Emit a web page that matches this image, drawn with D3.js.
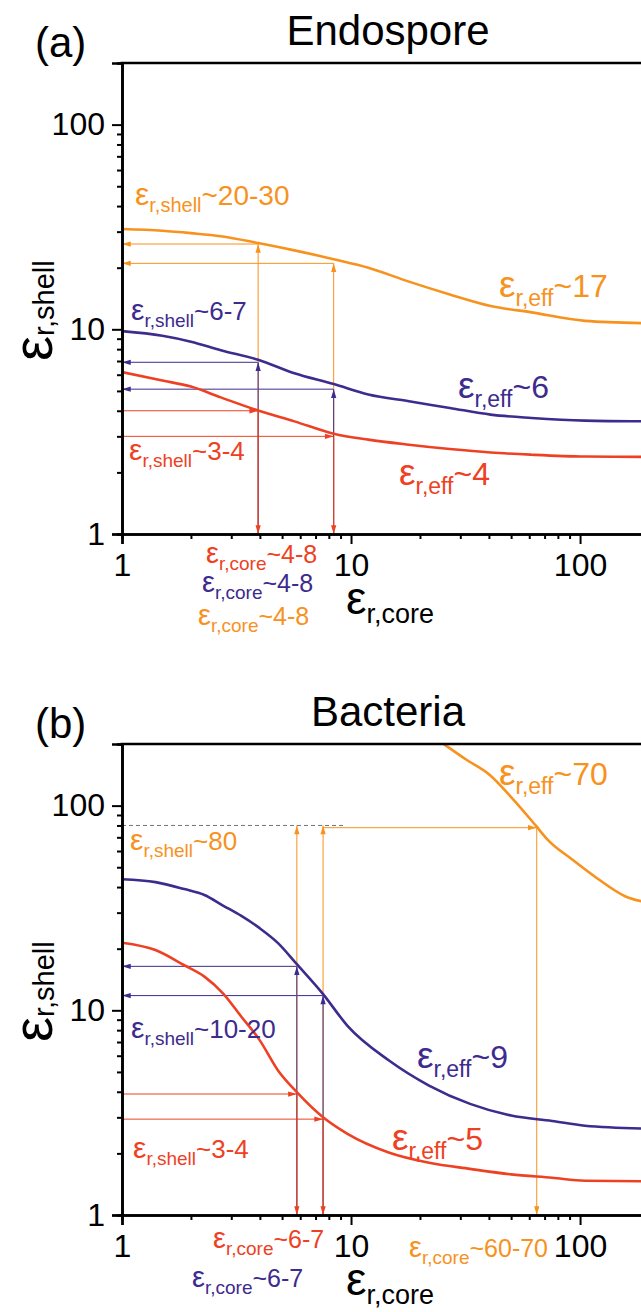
<!DOCTYPE html>
<html>
<head>
<meta charset="utf-8">
<script src="https://cdn.jsdelivr.net/npm/d3@7"></script>
<style>
  body { margin: 0; background: #fff; }
  text { font-family: "Liberation Sans", Arial, sans-serif; }
</style>
</head>
<body>
<div id="chart"></div>
<script>
// ---- data ----
// (a) Endospore
var coreA = [1, 1.5, 2, 2.7, 3.93, 5.66, 8.4, 11.9, 17.9, 27, 40.7, 61.4, 105, 200];
var shellOrangeA = [30.9, 30.3, 29.5, 28.5, 26.4, 24.3, 22.0, 20.0, 17.1, 14.8, 13.0, 12.1, 11.0, 10.7];
var shellPurpleA = [9.8, 9.3, 8.7, 7.9, 7.1, 6.1, 5.4, 4.8, 4.45, 4.13, 3.83, 3.69, 3.58, 3.55];
var shellRedA = [6.18, 5.62, 5.25, 4.65, 4.01, 3.55, 3.09, 2.89, 2.73, 2.60, 2.50, 2.44, 2.39, 2.38];

var markCoreA = [3.93, 8.4];
var arrowOrangeA = [26.1, 21.0];
var arrowPurpleA = [6.9, 5.1];
var arrowRedA = [4.0, 3.0];

// (b) Bacteria
var coreB = [1, 1.4, 1.87, 2.29, 2.76, 3.32, 3.99, 4.8, 5.8, 7.55, 9.65, 14.6, 21.9, 33.1, 50, 75.5, 105, 200];
var shellPurpleB = [43.7, 42.3, 39.1, 36.6, 32.5, 28.9, 25.2, 21.3, 16.8, 12.0, 8.4, 5.7, 4.29, 3.49, 3.06, 2.88, 2.73, 2.64];
var shellRedB = [21.4, 19.7, 16.6, 14.6, 12.1, 9.3, 7.15, 5.08, 3.98, 3.0, 2.49, 2.02, 1.80, 1.68, 1.58, 1.52, 1.47, 1.46];
var coreOrangeB = [25.4, 31.8, 40.7, 50, 64, 72.3, 92.7, 118.6, 158, 200];
var shellOrangeB = [200, 168, 140, 110, 80, 68, 54.4, 44.2, 36, 33.5];

var markCoreB = [5.8, 7.55];
var arrowOrangeB = [80, 80];
var arrowPurpleB = [16.4, 11.8];
var arrowRedB = [3.9, 2.94];
var effCoreB = [7.55, 64.7];   // orange horizontal arrow from .. to
var effShellB = 78;
var dashB = [1, 9.3, 80];       // dashed guide: from x, to x, at y

var majorTicks = [1, 10, 100];
var minorTicks = [2, 3, 4, 5, 6, 7, 8, 9, 20, 30, 40, 50, 60, 70, 80, 90];

var ORANGE = "#F7921E";
var PURPLE = "#3D2B8E";
var RED = "#EE4124";

var chartWidth = 641;
var chartHeight = 1312;
var marginLeft = 122;
var plotRight = 649;   // x axis reaches 200, cut by the window
var plotHeight = 471;

var svg = d3.select("#chart").append("svg")
  .attr("width", chartWidth)
  .attr("height", chartHeight);

svg.append("rect").attr("width", chartWidth).attr("height", chartHeight).attr("fill", "#fff");

// arrow heads
var defs = svg.append("defs");
[["o", ORANGE], ["p", PURPLE], ["r", RED]].forEach(function(m) {
  defs.append("marker")
    .attr("id", "arr-" + m[0])
    .attr("markerUnits", "userSpaceOnUse")
    .attr("viewBox", "0 -4 10 8")
    .attr("refX", 10).attr("refY", 0)
    .attr("markerWidth", 10).attr("markerHeight", 7)
    .attr("orient", "auto")
    .append("path")
    .attr("d", "M0,-3L10,0L0,3Z")
    .attr("fill", m[1]);
});

function epsLabel(g, x, y, color, sub, tail, fs, sfs, dy) {
  var t = g.append("text").attr("x", x).attr("y", y)
    .attr("fill", color).style("font-size", fs + "px");
  t.append("tspan").style("font-size", Math.round(fs * 1.15) + "px").text("ε");
  t.append("tspan").attr("dy", dy).style("font-size", sfs + "px").text(sub);
  t.append("tspan").attr("dy", -dy).text(tail);
  return t;
}

function drawPanel(top, id, letter, title, series, arrows) {
  var bottom = top + plotHeight;
  var x = d3.scaleLog().domain([1, 200]).range([marginLeft, plotRight]);
  var y = d3.scaleLog().domain([1, 200]).range([bottom, top]);

  var g = svg.append("g");

  defs.append("clipPath").attr("id", "clip-" + id)
    .append("rect").attr("x", marginLeft).attr("y", top)
    .attr("width", plotRight - marginLeft).attr("height", plotHeight);

  // arrows first, curves on top
  var ga = g.append("g").attr("clip-path", "url(#clip-" + id + ")")
    .style("stroke-width", 1).style("fill", "none");
  arrows(ga, x, y);

  var line = d3.line()
    .curve(d3.curveMonotoneX)
    .x(function(d) { return x(d[0]); })
    .y(function(d) { return y(d[1]); });

  var gc = g.append("g").attr("clip-path", "url(#clip-" + id + ")");
  series.forEach(function(s) {
    gc.append("path")
      .datum(d3.zip(s.x, s.y))
      .attr("d", line)
      .attr("fill", "none")
      .attr("stroke", s.color)
      .attr("stroke-width", 2.6)
      .attr("stroke-linejoin", "round");
  });

  // axes
  var yMajor = d3.axisLeft(y).tickValues(majorTicks).tickSize(10).tickPadding(7)
    .tickFormat(d3.format("d"));
  var yMinor = d3.axisLeft(y).tickValues(minorTicks).tickSize(5).tickFormat("");
  var xMajor = d3.axisBottom(x).tickValues(majorTicks).tickSize(10).tickPadding(9)
    .tickFormat(d3.format("d"));
  var xMinor = d3.axisBottom(x).tickValues(minorTicks).tickSize(5).tickFormat("");

  [
    [yMinor, "translate(" + marginLeft + ",0)"],
    [yMajor, "translate(" + marginLeft + ",0)"],
    [xMinor, "translate(0," + bottom + ")"],
    [xMajor, "translate(0," + bottom + ")"]
  ].forEach(function(a) {
    var ax = g.append("g").attr("transform", a[1]).call(a[0]);
    ax.select(".domain").attr("stroke-width", 2.6).attr("stroke", "#000");
    ax.selectAll(".tick line").attr("stroke-width", 2).attr("stroke", "#000");
    ax.selectAll("text").style("font-size", "32px").attr("fill", "#000")
      .style("font-family", "'Liberation Sans', Arial, sans-serif");
  });

  // top frame
  g.append("line")
    .attr("x1", marginLeft - 1.3).attr("x2", plotRight)
    .attr("y1", top).attr("y2", top)
    .attr("stroke", "#000").attr("stroke-width", 2.6);

  // titles
  g.append("text").attr("x", 35).attr("y", top - 6)
    .style("font-size", "42px").text(letter);
  g.append("text").attr("x", 388).attr("y", top - 18)
    .attr("text-anchor", "middle")
    .style("font-size", "42px").text(title);

  // axis titles
  var xt = g.append("text").attr("x", 346).attr("y", bottom + 80)
    .style("font-size", "46px").attr("fill", "#000");
  xt.append("tspan").text("ε");
  xt.append("tspan").attr("dy", 9).style("font-size", "27px").text("r,core");

  var yt = g.append("text")
    .attr("transform", "translate(52," + (top + 298) + ") rotate(-90)")
    .style("font-size", "56px").attr("fill", "#000");
  yt.append("tspan").text("ε");
  yt.append("tspan").attr("dy", 2).style("font-size", "29px").text("r,shell");

  return { x: x, y: y, g: g };
}

function vArrow(g, x, y, xv, from, to, color, key) {
  g.append("line")
    .attr("x1", x(xv)).attr("x2", x(xv))
    .attr("y1", y(from)).attr("y2", y(to))
    .attr("stroke", color)
    .attr("marker-end", "url(#arr-" + key + ")");
}

function hArrow(g, x, y, yv, from, to, color, key) {
  g.append("line")
    .attr("x1", x(from)).attr("x2", x(to))
    .attr("y1", y(yv)).attr("y2", y(yv))
    .attr("stroke", color)
    .attr("marker-end", "url(#arr-" + key + ")");
}

// ---------- panel (a) ----------
var pa = drawPanel(63, "a", "(a)", "Endospore", [
  { x: coreA, y: shellOrangeA, color: ORANGE },
  { x: coreA, y: shellPurpleA, color: PURPLE },
  { x: coreA, y: shellRedA, color: RED }
], function(g, x, y) {
  markCoreA.forEach(function(c, i) {
    hArrow(g, x, y, arrowOrangeA[i], c, 1, ORANGE, "o");
    hArrow(g, x, y, arrowPurpleA[i], c, 1, PURPLE, "p");
    hArrow(g, x, y, arrowRedA[i], 1, c, RED, "r");
  });
  markCoreA.forEach(function(c, i) {
    vArrow(g, x, y, c, 1, arrowOrangeA[i], ORANGE, "o");
  });
  markCoreA.forEach(function(c, i) {
    vArrow(g, x, y, c, 1, arrowPurpleA[i], PURPLE, "p");
  });
  markCoreA.forEach(function(c, i) {
    vArrow(g, x, y, c, arrowRedA[i], 1, RED, "r");
  });
});

epsLabel(svg, 135, 205, ORANGE, "r,shell", "~20-30", 28, 20, 7);
epsLabel(svg, 131, 320, PURPLE, "r,shell", "~6-7", 26, 19, 7);
epsLabel(svg, 129, 460, RED, "r,shell", "~3-4", 26, 19, 7);
epsLabel(svg, 499, 297, ORANGE, "r,eff", "~17", 32, 23, 9);
epsLabel(svg, 458, 398, PURPLE, "r,eff", "~6", 32, 23, 9);
epsLabel(svg, 399, 485, RED, "r,eff", "~4", 32, 23, 9);
epsLabel(svg, 206, 563, RED, "r,core", "~4-8", 25, 19, 7);
epsLabel(svg, 202, 592, PURPLE, "r,core", "~4-8", 25, 19, 7);
epsLabel(svg, 198, 625, ORANGE, "r,core", "~4-8", 25, 19, 7);

// ---------- panel (b) ----------
var pb = drawPanel(744, "b", "(b)", "Bacteria", [
  { x: coreOrangeB, y: shellOrangeB, color: ORANGE },
  { x: coreB, y: shellPurpleB, color: PURPLE },
  { x: coreB, y: shellRedB, color: RED }
], function(g, x, y) {
  g.append("line")
    .attr("x1", x(dashB[0])).attr("x2", x(dashB[1]))
    .attr("y1", y(dashB[2])).attr("y2", y(dashB[2]))
    .attr("stroke", "#6f7380").attr("stroke-dasharray", "4,3");
  hArrow(g, x, y, effShellB, effCoreB[0], effCoreB[1], ORANGE, "o");
  vArrow(g, x, y, effCoreB[1], effShellB, 1, ORANGE, "o");
  markCoreB.forEach(function(c, i) {
    hArrow(g, x, y, arrowPurpleB[i], c, 1, PURPLE, "p");
    hArrow(g, x, y, arrowRedB[i], 1, c, RED, "r");
  });
  markCoreB.forEach(function(c, i) {
    vArrow(g, x, y, c, 1, arrowOrangeB[i], ORANGE, "o");
  });
  markCoreB.forEach(function(c, i) {
    vArrow(g, x, y, c, 1, arrowPurpleB[i], PURPLE, "p");
  });
  markCoreB.forEach(function(c, i) {
    vArrow(g, x, y, c, arrowRedB[i], 1, RED, "r");
  });
});

epsLabel(svg, 499, 785, ORANGE, "r,eff", "~70", 32, 23, 9);
epsLabel(svg, 130, 850, ORANGE, "r,shell", "~80", 26, 19, 7);
epsLabel(svg, 131, 1038, PURPLE, "r,shell", "~10-20", 26, 19, 7);
epsLabel(svg, 417, 1068, PURPLE, "r,eff", "~9", 32, 23, 9);
epsLabel(svg, 133, 1158, RED, "r,shell", "~3-4", 26, 19, 7);
epsLabel(svg, 392, 1150, RED, "r,eff", "~5", 32, 23, 9);
epsLabel(svg, 213, 1248, RED, "r,core", "~6-7", 25, 19, 7);
epsLabel(svg, 192, 1287, PURPLE, "r,core", "~6-7", 25, 19, 7);
epsLabel(svg, 409, 1257, ORANGE, "r,core", "~60-70", 25, 19, 7);
</script>
</body>
</html>
